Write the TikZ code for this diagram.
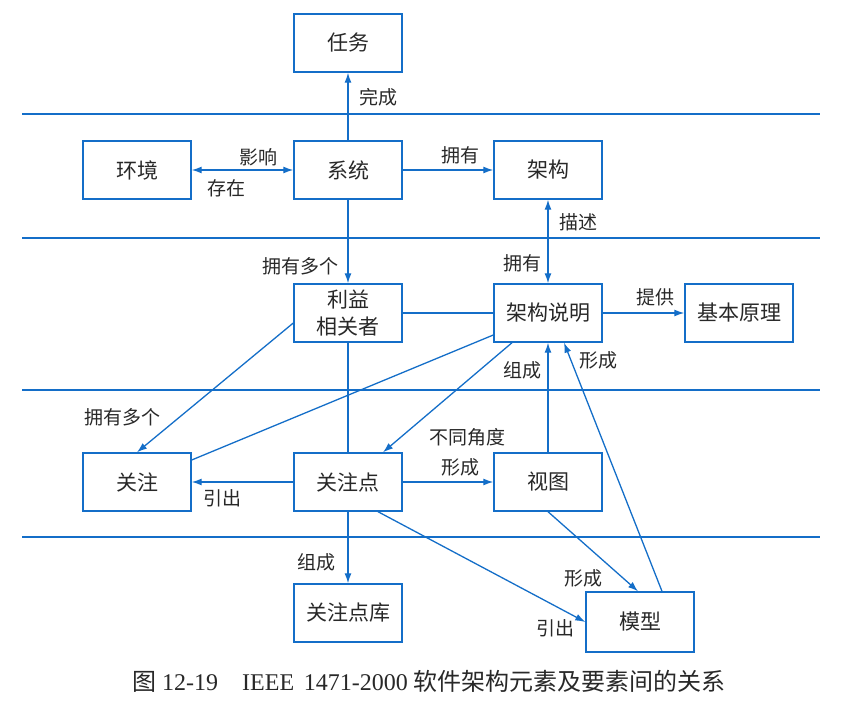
\documentclass[tikz,border=0pt]{standalone}
\usepackage{fontspec}
\setmainfont{Liberation Serif}
\newfontfamily\cjk{Noto Sans CJK SC}
\usetikzlibrary{arrows.meta}
\definecolor{lineblue}{RGB}{20,110,200}
\definecolor{textgray}{RGB}{40,40,40}
\begin{document}
\begin{tikzpicture}[x=1pt,y=-1pt,
	box_node/.style={draw=lineblue,line width=1.4pt,minimum width=108pt,minimum height=58pt,inner sep=0pt,align=center,font=\cjk\fontsize{21}{27}\selectfont,text=textgray},
	lab_node/.style={inner sep=0pt,font=\cjk\fontsize{19}{22}\selectfont,text=textgray},
	con/.style={draw=lineblue,line width=1.3pt},
	arr/.style={con,-{Latex[length=10pt,width=7pt]}},
	arr2/.style={con,{Latex[length=10pt,width=7pt]}-{Latex[length=10pt,width=7pt]}},
	sep_line/.style={draw=lineblue,line width=1.4pt}]
		
		\useasboundingbox (0,0) rectangle (854,708);
		
		\foreach \y in {114,238,390,537}
			\draw[sep_line] (22,\y) -- (820,\y);
		
		\node[box_node] (task) at (348,43) {任务};
		\node[box_node] (env) at (137,170) {环境};
		\node[box_node] (sys) at (348,170) {系统};
		\node[box_node] (arch) at (548,170) {架构};
		\node[box_node] (stake) at (348,313) {利益\\相关者};
		\node[box_node] (ad) at (548,313) {架构说明};
		\node[box_node] (rat) at (739,313) {基本原理};
		\node[box_node] (concern) at (137,482) {关注};
		\node[box_node] (vp) at (348,482) {关注点};
		\node[box_node] (view) at (548,482) {视图};
		\node[box_node] (lib) at (348,613) {关注点库};
		\node[box_node,minimum height=60pt] (model) at (640,622) {模型};
		
		\draw[arr] (sys) -- (task);
		\draw[arr2] (env) -- (sys);
		\draw[arr] (sys) -- (arch);
		\draw[arr2] (arch) -- (ad);
		\draw[arr] (sys) -- (stake);
		\draw[con] (stake) -- (ad);
		\draw[arr] (ad) -- (rat);
		\draw[con] (stake) -- (vp);
		\draw[arr] ([yshift=-10pt]stake.west) -- (concern.north);
		\draw[arr] ([xshift=-36pt]ad.south) -- ([xshift=35pt]vp.north);
		\draw[con] ([yshift=-22pt]ad.west) -- ([yshift=22pt]concern.east);
		\draw[arr] (vp) -- (concern);
		\draw[arr] (vp) -- (view);
		\draw[arr] (view) -- (ad);
		\draw[arr] ([xshift=22pt]model.north) -- ([xshift=16pt]ad.south);
		\draw[arr] (view.south) -- ([xshift=-2pt]model.north);
		\draw[arr] ([xshift=30pt]vp.south) -- (model.west);
		\draw[arr] (vp) -- (lib);
		
		\node[lab_node] (l1) at (378,97) {完成};
		\node[lab_node] (l2) at (258,157) {影响};
		\node[lab_node] (l3) at (226,188) {存在};
		\node[lab_node] (l4) at (460,155) {拥有};
		\node[lab_node] (l5) at (578,222) {描述};
		\node[lab_node] (l6) at (522,263) {拥有};
		\node[lab_node] (l7) at (300,266) {拥有多个};
		\node[lab_node] (l8) at (655,297) {提供};
		\node[lab_node] (l9) at (522,370) {组成};
		\node[lab_node] (l10) at (598,360) {形成};
		\node[lab_node] (l11) at (122,417) {拥有多个};
		\node[lab_node] (l12) at (467,437) {不同角度};
		\node[lab_node] (l13) at (460,467) {形成};
		\node[lab_node] (l14) at (222,498) {引出};
		\node[lab_node] (l15) at (316,562) {组成};
		\node[lab_node] (l16) at (583,578) {形成};
		\node[lab_node] (l17) at (555,628) {引出};
		
		\node[inner sep=0pt,text=textgray,font=\fontsize{24}{28}\selectfont] (cap) at (429,681) {{\cjk 图} 12-19\hspace{1em}IEEE\hspace{0.4em}1471-2000 {\cjk 软件架构元素及要素间的关系}};
		\end{tikzpicture}
\end{document}
